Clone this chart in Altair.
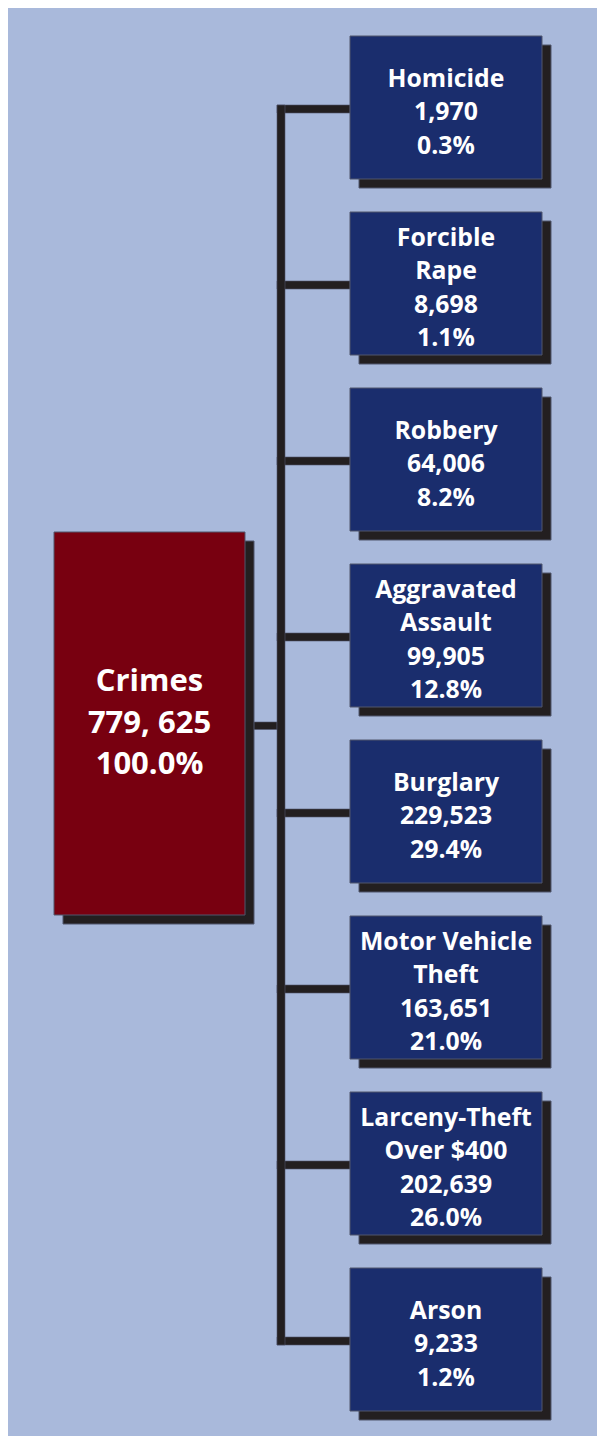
import altair as alt
import pandas as pd

# ---- data ----
categories = [
    ["Homicide"],
    ["Forcible", "Rape"],
    ["Robbery"],
    ["Aggravated", "Assault"],
    ["Burglary"],
    ["Motor Vehicle", "Theft"],
    ["Larceny-Theft", "Over $400"],
    ["Arson"],
]
counts = [1970, 8698, 64006, 99905, 229523, 163651, 202639, 9233]
percents = [0.3, 1.1, 8.2, 12.8, 29.4, 21.0, 26.0, 1.2]
total_label = ["Crimes"]
total_count = 779625
total_percent = 100.0

# ---- layout (page pixel coordinates) ----
BG = "#a9b9db"
NAVY = "#1a2d6d"
RED = "#780010"
SHADOW = "#231f20"
OUTLINE = "#50566c"

W, H = 589, 1428
X0, Y0 = 8, 8

box_x, box_x2 = 350, 542
box_top0, box_step, box_h = 36, 176, 143
sh = 9  # shadow offset

root = dict(x=54, x2=245, y=532, y2=915)

spine_x, spine_x2 = 277, 285

boxes, shadows, lines, texts = [], [], [], []

# root box
shadows.append(dict(x=root["x"] + sh, x2=root["x2"] + sh, y=root["y"] + sh, y2=root["y2"] + sh, c=SHADOW))
boxes.append(dict(x=root["x"], x2=root["x2"], y=root["y"], y2=root["y2"], c=RED))
root_lines = total_label + [f"{total_count:,}".replace(",", ", "), f"{total_percent:.1f}%"]
rcx = (root["x"] + root["x2"]) / 2
for i, t in enumerate(root_lines):
    texts.append(dict(x=rcx, y=691 + i * 41.5, t=t, fs=31))
# root branch
lines.append(dict(x=root["x2"], x2=spine_x, y=722, y2=729.5, c=SHADOW))

centers = []
for k, (name, cnt, pct) in enumerate(zip(categories, counts, percents)):
    top = box_top0 + k * box_step
    bot = top + box_h
    cy = (top + bot) / 2
    centers.append(cy)
    shadows.append(dict(x=box_x + sh, x2=box_x2 + sh, y=top + sh, y2=bot + sh, c=SHADOW))
    boxes.append(dict(x=box_x, x2=box_x2, y=top, y2=bot, c=NAVY))
    lns = name + [f"{cnt:,}", f"{pct:.1f}%"]
    n = len(lns)
    for i, t in enumerate(lns):
        texts.append(dict(x=(box_x + box_x2) / 2, y=cy + 3.5 + (i - (n - 1) / 2) * 33.5 + 9, t=t, fs=24.8))
    lines.append(dict(x=spine_x, x2=box_x, y=cy + 1.5 - 4, y2=cy + 1.5 + 4, c=SHADOW))

# spine
lines.append(dict(x=spine_x, x2=spine_x2, y=centers[0] - 2.5, y2=centers[-1] + 5.5, c=SHADOW))

xs = alt.Scale(domain=[X0, X0 + W], nice=False, zero=False)
ys = alt.Scale(domain=[Y0, Y0 + H], nice=False, zero=False, reverse=True)


def rects(df, stroke=None):
    kw = dict(strokeWidth=1, stroke=stroke) if stroke else dict(strokeWidth=0)
    return alt.Chart(pd.DataFrame(df)).mark_rect(**kw).encode(
        x=alt.X("x:Q", scale=xs, axis=None),
        x2="x2:Q",
        y=alt.Y("y:Q", scale=ys, axis=None),
        y2="y2:Q",
        color=alt.Color("c:N", scale=None),
    )


line_layer = alt.Chart(pd.DataFrame(lines)).mark_rect(stroke=OUTLINE, strokeWidth=0.6).encode(
    x=alt.X("x:Q", scale=xs, axis=None),
    x2="x2:Q",
    y=alt.Y("y:Q", scale=ys, axis=None),
    y2="y2:Q",
    color=alt.Color("c:N", scale=None),
)

text_layer = alt.Chart(pd.DataFrame(texts)).mark_text(
    font="Open Sans", fontWeight="bold", color="white", align="center", baseline="alphabetic"
).encode(
    x=alt.X("x:Q", scale=xs, axis=None),
    y=alt.Y("y:Q", scale=ys, axis=None),
    text="t:N",
    size=alt.Size("fs:Q", scale=None),
)

chart = alt.layer(
    line_layer,
    rects(shadows, stroke=OUTLINE),
    rects(boxes, stroke=OUTLINE),
    text_layer,
).properties(
    width=W, height=H, padding=0, autosize="none", background=BG
).configure_view(strokeWidth=0, fill=BG)

chart.save("out.html", embed_options={"renderer": "svg", "actions": False})
